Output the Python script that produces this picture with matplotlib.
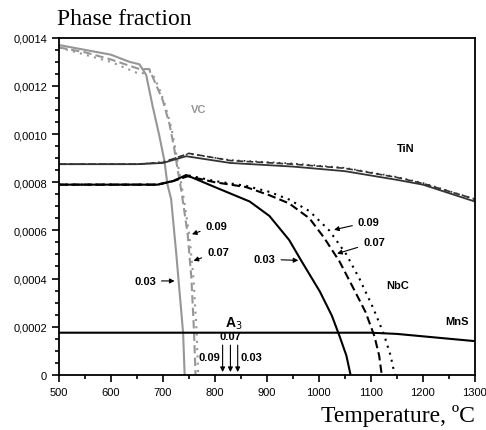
import matplotlib
matplotlib.use("Agg")
import matplotlib.pyplot as plt
from matplotlib.ticker import MultipleLocator, FuncFormatter

# VC (gray)
vc_t_03 = [500, 550, 600, 636, 655, 668, 680, 693, 703, 709, 716, 726, 739, 742]
vc_y_03 = [0.00137, 0.00135, 0.00133, 0.0013, 0.00129, 0.001246, 0.00112, 0.000996, 0.00089, 0.00079, 0.00073, 0.00050, 0.000175, 0]
vc_t_07 = [500, 550, 600, 655, 674, 690, 700, 713, 722, 728, 736, 748, 755, 760, 763]
vc_y_07 = [0.00136, 0.00134, 0.00131, 0.00127, 0.00127, 0.00119, 0.00114, 0.00104, 0.00094, 0.00086, 0.00076, 0.00058, 0.00040, 0.00018, 0]
vc_t_09 = [500, 550, 600, 655, 678, 693, 703, 716, 725, 731, 739, 751, 759, 765, 768]
vc_y_09 = [0.00136, 0.00133, 0.00130, 0.00125, 0.00126, 0.00119, 0.00113, 0.00103, 0.00093, 0.00085, 0.00075, 0.00058, 0.00040, 0.00018, 0]

# TiN
tin_t_03 = [500, 650, 700, 745, 830, 950, 1050, 1150, 1200, 1300]
tin_y_03 = [0.000875, 0.000875, 0.00088, 0.000908, 0.00088, 0.000865, 0.000846, 0.00081, 0.00079, 0.00072]
tin_t_07 = [500, 650, 700, 750, 830, 950, 1050, 1150, 1200, 1300]
tin_y_07 = [0.000875, 0.000875, 0.000882, 0.00092, 0.00089, 0.000875, 0.000858, 0.00082, 0.000795, 0.00073]
tin_y_09 = [0.000875, 0.000875, 0.000884, 0.000918, 0.000892, 0.000878, 0.00086, 0.000822, 0.000797, 0.00073]

# NbC
nbc_t_03 = [500, 690, 720, 745, 800, 867, 905, 943, 966, 1002, 1025, 1040, 1053, 1061]
nbc_y_03 = [0.00079, 0.00079, 0.000805, 0.00083, 0.00078, 0.00072, 0.00066, 0.00056, 0.000475, 0.000346, 0.000246, 0.00016, 0.00008, 0]
nbc_t_07 = [500, 690, 720, 748, 800, 860, 905, 943, 982, 1010, 1040, 1064, 1090, 1107, 1116, 1121]
nbc_y_07 = [0.00079, 0.00079, 0.000805, 0.000825, 0.0008, 0.00078, 0.000746, 0.000712, 0.00065, 0.00057, 0.00047, 0.00037, 0.00026, 0.00016, 0.00008, 0]
nbc_t_09 = [500, 690, 720, 750, 800, 860, 905, 943, 982, 1020, 1053, 1078, 1104, 1125, 1138, 1146]
nbc_y_09 = [0.00079, 0.00079, 0.000806, 0.000828, 0.000805, 0.000785, 0.00076, 0.000728, 0.00068, 0.0006, 0.0005, 0.0004, 0.00028, 0.00017, 0.00008, 0]

# MnS
mns_t = [500, 1100, 1150, 1200, 1250, 1300]
mns_y = [0.000175, 0.000175, 0.00017, 0.00016, 0.00015, 0.00014]

# A3 temperatures
a3_t = [815, 830, 844]
a3_labels = ["0.09", "0.07", "0.03"]

fig = plt.figure(figsize=(4.86, 4.31), dpi=100)
ax = fig.add_axes([0.121, 0.128, 0.856, 0.782])

gray = "#969696"
ax.plot(vc_t_03, vc_y_03, color=gray, lw=1.5)
ax.plot(vc_t_07, vc_y_07, color=gray, lw=1.5, ls=(0, (4, 2)))
ax.plot(vc_t_09, vc_y_09, color=gray, lw=1.5, ls=(0, (1, 2.5)))

ax.plot(tin_t_03, tin_y_03, color="#333333", lw=1.3)
ax.plot(tin_t_07, tin_y_07, color="#333333", lw=1.2, ls=(0, (4, 2)))
ax.plot(tin_t_07, tin_y_09, color="#333333", lw=1.2, ls=(0, (1, 2.5)))

ax.plot(nbc_t_03, nbc_y_03, color="black", lw=1.5)
ax.plot(nbc_t_07, nbc_y_07, color="black", lw=1.5, ls=(0, (4, 2)))
ax.plot(nbc_t_09, nbc_y_09, color="black", lw=1.5, ls=(0, (1, 2.5)))

ax.plot(mns_t, mns_y, color="black", lw=1.5)

ax.set_xlim(500, 1300)
ax.set_ylim(0, 0.0014)
ax.xaxis.set_major_locator(MultipleLocator(100))
ax.xaxis.set_minor_locator(MultipleLocator(50))
ax.yaxis.set_major_locator(MultipleLocator(0.0002))
ax.yaxis.set_minor_locator(MultipleLocator(0.00005))
ax.yaxis.set_major_formatter(FuncFormatter(lambda v, p: "0" if abs(v) < 1e-12 else f"{v:.4f}".replace(".", ",")))
ax.tick_params(which="major", direction="out", length=5, width=1.2, labelsize=8)
ax.tick_params(which="minor", direction="out", length=3, width=1.2)
for s in ax.spines.values():
    s.set_linewidth(1.3)
for lab in ax.get_xticklabels() + ax.get_yticklabels():
    lab.set_family("Liberation Sans")

fig.text(0.118, 0.942, "Phase fraction", family="Liberation Serif", fontsize=17)
fig.text(0.977, 0.02, "Temperature, \u00baC", family="Liberation Serif", fontsize=17, ha="right")

bold = dict(fontsize=8, fontweight="bold", family="Liberation Sans")
ax.text(755, 0.00109, "VC", color=gray, **bold)
ax.text(1150, 0.00093, "TiN", **bold)
ax.text(1130, 0.00036, "NbC", **bold)
ax.text(1243, 0.00021, "MnS", **bold)
ax.text(820, 0.00020, "A$_3$", fontsize=10, fontweight="bold", family="Liberation Sans")

arr = dict(arrowstyle="-|>", color="black", lw=0.8, mutation_scale=7)
ax.annotate("0.09", xy=(751, 0.00058), xytext=(782, 0.00062), va="center", arrowprops=arr, **bold)
ax.annotate("0.07", xy=(754, 0.00047), xytext=(785, 0.00051), va="center", arrowprops=arr, **bold)
ax.annotate("0.03", xy=(728, 0.00039), xytext=(645, 0.00039), va="center", arrowprops=arr, **bold)
ax.annotate("0.09", xy=(1024, 0.0006), xytext=(1075, 0.000635), va="center", arrowprops=arr, **bold)
ax.annotate("0.07", xy=(1030, 0.0005), xytext=(1085, 0.00055), va="center", arrowprops=arr, **bold)
ax.annotate("0.03", xy=(966, 0.000475), xytext=(875, 0.00048), va="center", arrowprops=arr, **bold)

for t in a3_t:
    ax.annotate("", xy=(t, 0), xytext=(t, 0.000135), arrowprops=arr)
ax.text(a3_t[0] - 4, 0.000075, a3_labels[0], ha="right", va="center", **bold)
ax.text(a3_t[1], 0.000142, a3_labels[1], ha="center", va="bottom", **bold)
ax.text(a3_t[2] + 5, 0.000075, a3_labels[2], ha="left", va="center", **bold)

fig.savefig("out.png", dpi=100)
